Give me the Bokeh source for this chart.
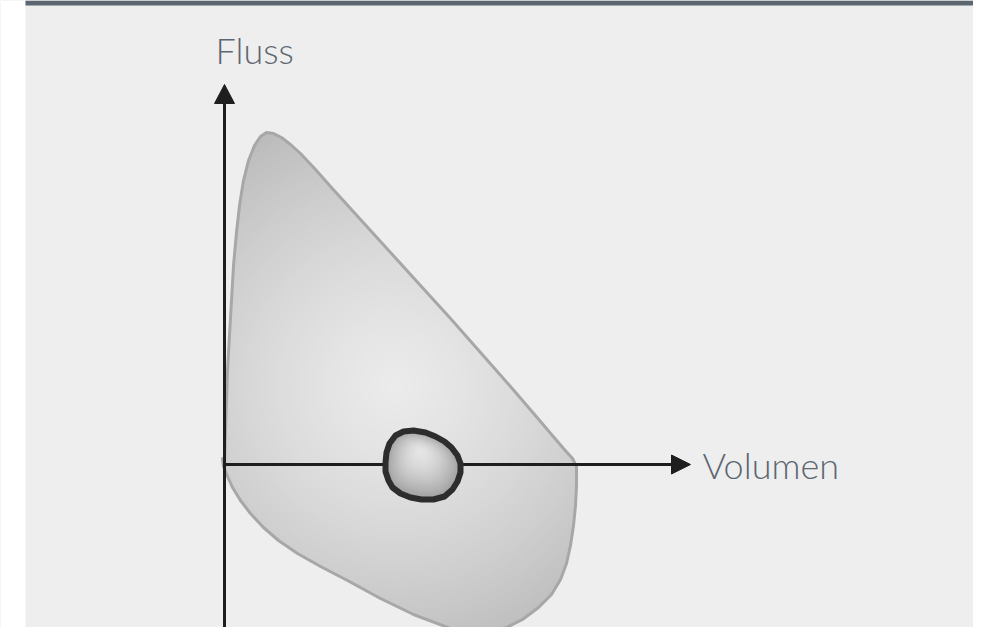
import numpy as np
from bokeh.plotting import figure
from bokeh.models import Range1d
from bokeh.core.properties import value
from bokeh.embed import file_html
from bokeh.resources import INLINE

# ---- data (volume / flow units, origin at axis cross) ----
loop_volume = [0, 1, 2, 3, 5, 7, 9, 12, 15, 19, 24, 30, 36, 42, 49, 57, 66, 76, 91, 106,
               136, 166, 196, 226, 256, 286, 316, 339, 348, 352, 352, 351, 349, 346, 342,
               336, 327, 314, 298, 282, 266, 248, 226, 189, 156, 123, 96, 73, 54, 39, 26,
               16, 8, 3, -1, -2]
loop_flow = [2, 34, 64, 94, 129, 164, 199, 232, 259, 284, 304, 319, 328, 332, 331, 327, 320,
             311, 295, 278, 245, 212, 179, 146, 112, 78, 43, 16, 6, -2, -21, -41, -61, -81,
             -99, -115, -130, -143, -155, -163, -167, -168, -164, -150, -134, -116, -102,
             -89, -76, -63, -49, -36, -23, -12, -2, 6]

small_volume = [189, 201, 211, 220, 227, 233, 236, 236, 233, 228, 220, 209, 197, 186, 176,
                168, 164, 161, 161, 162, 165, 171, 179]
small_flow = [34, 32, 28, 23, 17, 9, 1, -8, -17, -25, -32, -35, -35, -33, -29, -23, -16, -7,
              2, 12, 21, 29, 33]

x_axis_end = 466
y_axis_end = 380
y_axis_start = -169
x_label = "Volumen"
y_label = "Fluss"

# ---- figure ----
X0, X1 = -224, 749
Y0, Y1 = -163, 464
BG = "#eeeeee"
p = figure(width=973, height=627, x_range=Range1d(X0, X1), y_range=Range1d(Y0, Y1),
           output_backend="svg", toolbar_location=None, min_border=0,
           x_axis_type=None, y_axis_type=None)
p.grid.visible = False
p.outline_line_color = None
p.background_fill_color = BG
p.border_fill_color = BG

# radial gradient for the outer loop (circles, then masked)
cx, cy = 171, 79
radii = np.arange(320, 1, -3)
def shade(d):
    v = 236 - 0.1 * d - 0.00025 * d * d
    v = int(max(170, min(240, v)))
    return "#%02x%02x%02x" % (v, v, v)
cols = [shade(r) for r in radii]
p.circle(x=[cx] * len(radii), y=[cy] * len(radii), radius=list(radii),
         fill_color=cols, line_color=None)

# mask outside the loop
rect_x = [X0 - 5, X1 + 5, X1 + 5, X0 - 5]
rect_y = [Y0 - 10, Y0 - 10, Y1 + 5, Y1 + 5]
p.multi_polygons(xs=[[[rect_x, loop_volume]]], ys=[[[rect_y, loop_flow]]],
                 fill_color=BG, line_color=None)

# outer loop outline
p.patch(loop_volume, loop_flow, fill_color=None, line_color="#a7a7a7", line_width=3,
        line_join="round")

# axes
AX = "#1e1e1e"
p.line([0, 0], [y_axis_start, y_axis_end - 18], line_color=AX, line_width=3)
p.line([0, x_axis_end - 18], [0, 0], line_color=AX, line_width=3)
p.patch([0, -10, 10], [y_axis_end, y_axis_end - 19, y_axis_end - 19],
        fill_color=AX, line_color=AX, line_width=1)
p.patch([x_axis_end, x_axis_end - 19, x_axis_end - 19], [0, 9.5, -9.5],
        fill_color=AX, line_color=AX, line_width=1)

# inner loop gradient via nested shrinking outlines
icx, icy = 196, 14
sv = np.array(small_volume, dtype=float)
sf = np.array(small_flow, dtype=float)
xs, ys, ic = [], [], []
for s in np.arange(1.0, 0.03, -0.04):
    xs.append(list(icx + (sv - icx) * s))
    ys.append(list(icy + (sf - icy) * s))
    v = int(230 - (230 - 160) * s ** 1.6)
    ic.append("#%02x%02x%02x" % (v, v, v))
p.patches(xs, ys, fill_color=ic, line_color=None)
p.patch(small_volume, small_flow, fill_color=None, line_color="#2d2d2d", line_width=6,
        line_join="round")

# page decorations: white strip and top bar
p.quad(left=[X0], right=[X0 + 25], bottom=[Y0], top=[Y1], fill_color="white", line_color=None)
p.quad(left=[X0 + 25], right=[X1], bottom=[Y1 - 5], top=[Y1], fill_color="#5b6670",
       line_color=None)

# labels
TXT = "#5c6771"
p.text(x=[-9], y=[415], text=[y_label], text_font=value("Lato Light"), text_font_size="36px",
       text_color=TXT, text_align="left", text_baseline="alphabetic")
p.text(x=[478], y=[0], text=[x_label], text_font=value("Lato Light"), text_font_size="36px",
       text_color=TXT, text_align="left", text_baseline="alphabetic")

open("out.html", "w").write(file_html(p, INLINE))
